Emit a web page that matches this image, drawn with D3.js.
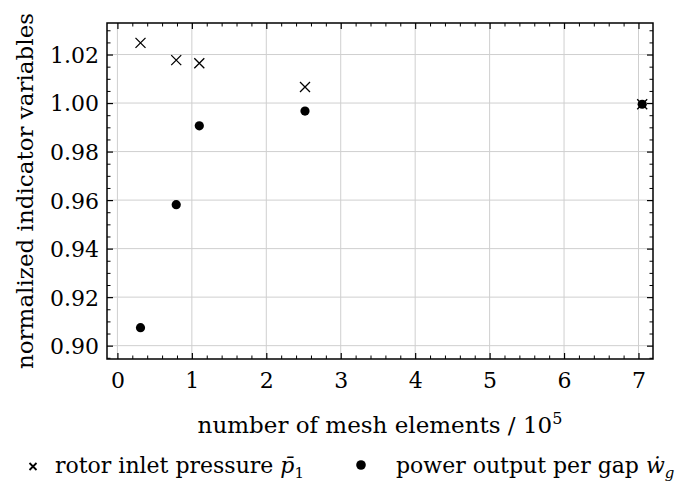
<!DOCTYPE html>
<html>
<head>
<meta charset="utf-8">
<script src="https://cdn.jsdelivr.net/npm/d3@7"></script>
<style>
body { margin: 0; background: #fff; }
</style>
</head>
<body>
<script>
var w = 691;
var h = 494;
var margin = {left: 107, top: 23, right: 38, bottom: 135};
var fs = 22;
var labelFs = 23;
var font = "DejaVu Serif";

// mesh sizes (x 10^5) and normalized values
var meshElements = [0.31, 0.79, 1.10, 2.52, 7.05];
var pressure = [1.0248, 1.0177, 1.0164, 1.0066, 0.9995];
var power = [0.9074, 0.9581, 0.9906, 0.9967, 0.9995];
var xTicks = [0, 1, 2, 3, 4, 5, 6, 7];
var yTicks = [0.90, 0.92, 0.94, 0.96, 0.98, 1.00, 1.02];

var x0 = margin.left, x1 = w - margin.right;
var y0 = h - margin.bottom, y1 = margin.top;

var xScale = d3.scaleLinear().domain([-0.14, 7.195]).range([x0, x1]);
var yScale = d3.scaleLinear().domain([0.8945, 1.033]).range([y0, y1]);

var svg = d3.select("body").append("svg")
    .attr("width", w)
    .attr("height", h)
    .attr("font-family", font);

// grid
svg.append("g").selectAll("line").data(xTicks).enter().append("line")
    .attr("x1", d => xScale(d)).attr("x2", d => xScale(d))
    .attr("y1", y0).attr("y2", y1)
    .attr("stroke", "#cfcfcf").attr("stroke-width", 1);
svg.append("g").selectAll("line").data(yTicks).enter().append("line")
    .attr("x1", x0).attr("x2", x1)
    .attr("y1", d => yScale(d)).attr("y2", d => yScale(d))
    .attr("stroke", "#cfcfcf").attr("stroke-width", 1);

// minor ticks
var xMinor = d3.range(0, 7.2, 0.2).filter(d => Math.abs(d - Math.round(d)) > 0.01);
var yMinor = d3.range(0.895, 1.033, 0.005).filter(d => Math.abs(d * 50 - Math.round(d * 50)) > 0.01);

function drawAxis(axis, ticks, minor, transform) {
    var g = svg.append("g").attr("transform", transform)
        .call(axis.tickValues(ticks).tickSizeInner(-6).tickSizeOuter(0).tickPadding(12));
    g.attr("font-family", font).attr("font-size", fs);
    g.select(".domain").remove();
    g.selectAll(".tick line").attr("stroke", "#000").attr("stroke-width", 1.2);
    var m = svg.append("g").attr("transform", transform)
        .call(axis.tickValues(minor).tickSizeInner(-3.5).tickFormat(""));
    m.select(".domain").remove();
    m.selectAll(".tick line").attr("stroke", "#000").attr("stroke-width", 1);
    return g;
}

var gx = drawAxis(d3.axisBottom(xScale).tickFormat(d3.format("d")), xTicks, xMinor, "translate(0," + y0 + ")");
gx.selectAll("text").attr("dy", null).attr("y", 29);
var gy = drawAxis(d3.axisLeft(yScale).tickFormat(d3.format(".2f")), yTicks, yMinor, "translate(" + x0 + ",0)");
gy.selectAll("text").attr("x", -8).attr("dy", "0.36em");
drawAxis(d3.axisTop(xScale).tickFormat(""), xTicks, xMinor, "translate(0," + y1 + ")");
drawAxis(d3.axisRight(yScale).tickFormat(""), yTicks, yMinor, "translate(" + x1 + ",0)");

// frame
svg.append("rect")
    .attr("x", x0).attr("y", y1)
    .attr("width", x1 - x0).attr("height", y0 - y1)
    .attr("fill", "none").attr("stroke", "#000").attr("stroke-width", 1.5);

// points
var cs = 5;
svg.append("g").selectAll("path").data(meshElements).enter().append("path")
    .attr("d", function(d, i) {
        var cx = xScale(d), cy = yScale(pressure[i]);
        return "M" + (cx - cs) + "," + (cy - cs) + "L" + (cx + cs) + "," + (cy + cs) +
               "M" + (cx - cs) + "," + (cy + cs) + "L" + (cx + cs) + "," + (cy - cs);
    })
    .attr("stroke", "#000").attr("stroke-width", 1.3).attr("fill", "none");

svg.append("g").selectAll("circle").data(meshElements).enter().append("circle")
    .attr("cx", d => xScale(d))
    .attr("cy", (d, i) => yScale(power[i]))
    .attr("r", 4.6)
    .attr("fill", "#000");

// axis labels
var xl = svg.append("text")
    .attr("x", (x0 + x1) / 2).attr("y", 433)
    .attr("text-anchor", "middle")
    .attr("font-size", labelFs)
    .text("number of mesh elements / 10");
xl.append("tspan").attr("dy", "-9").attr("font-size", 16).text("5");

svg.append("text")
    .attr("transform", "translate(33," + ((y0 + y1) / 2) + ") rotate(-90)")
    .attr("text-anchor", "middle")
    .attr("font-size", labelFs)
    .text("normalized indicator variables");

// legend
var leg = svg.append("g");
var lx1 = 33, ly = 473;
leg.append("path")
    .attr("d", "M" + (lx1 - 3.5) + "," + (ly - 10) + "l7,7M" + (lx1 - 3.5) + "," + (ly - 3) + "l7,-7")
    .attr("stroke", "#000").attr("stroke-width", 1.8);
var t1 = leg.append("text").attr("x", 55).attr("y", ly).attr("font-size", fs);
t1.append("tspan").text("rotor inlet pressure ");
t1.append("tspan").attr("font-style", "italic").text("p\u0304");
t1.append("tspan").attr("dy", "5").attr("font-size", 15).text("1");

var lx2 = 361;
leg.append("circle").attr("cx", lx2).attr("cy", ly - 8).attr("r", 4.8).attr("fill", "#000");
var t2 = leg.append("text").attr("x", 396).attr("y", ly).attr("font-size", fs);
t2.append("tspan").text("power output per gap ");
t2.append("tspan").attr("font-style", "italic").text("w\u0307");
t2.append("tspan").attr("dy", "5").attr("font-size", 15).attr("font-style", "italic").text("g");
</script>
</body>
</html>
